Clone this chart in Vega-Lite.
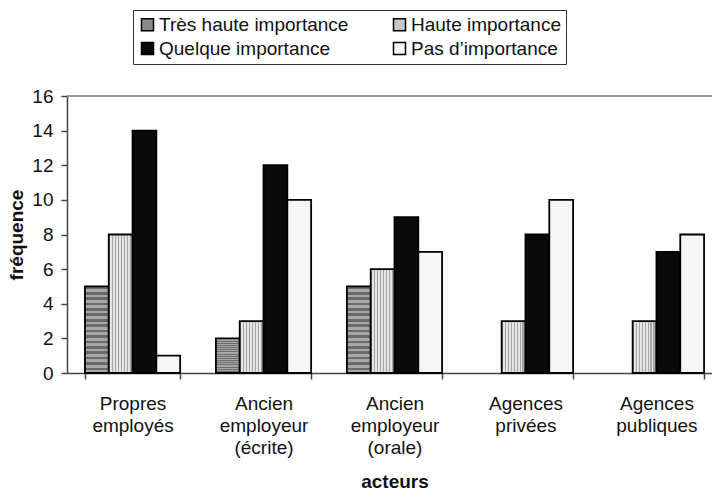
{
  "$schema": "https://vega.github.io/schema/vega-lite/v6.json",
  "autosize": {"type": "none"},
  "padding": {"left": 67, "top": 96, "right": 0, "bottom": 118},
  "width": 645,
  "height": 277,
  "background": "white",
  "config": {
    "font": "Liberation Sans",
    "view": {"stroke": null},
    "axis": {"labelFont": "Liberation Sans", "titleFont": "Liberation Sans", "labelColor": "#111", "titleColor": "#111"},
    "axisY": {
      "titleFontSize": 19,
      "titleFontWeight": "bold",
      "titleX": -51,
      "titleY": 138.5,
      "titleAlign": "center",
      "titleBaseline": "middle",
      "titleAngle": -90,
      "labelOverlap": false,
      "grid": false,
      "labelFontSize": 19,
      "labelPadding": 8,
      "tickSize": 6,
      "tickColor": "#444",
      "domainColor": "#444",
      "domainWidth": 1.5,
      "tickWidth": 1.5
    }
  },
  "data": {
    "values": [
      {"acteur": "Propres employés", "importance": "Très haute importance", "frequence": 5},
      {"acteur": "Propres employés", "importance": "Haute importance", "frequence": 8},
      {"acteur": "Propres employés", "importance": "Quelque  importance", "frequence": 14},
      {"acteur": "Propres employés", "importance": "Pas d’importance", "frequence": 1},
      {"acteur": "Ancien employeur (écrite)", "importance": "Très haute importance", "frequence": 2},
      {"acteur": "Ancien employeur (écrite)", "importance": "Haute importance", "frequence": 3},
      {"acteur": "Ancien employeur (écrite)", "importance": "Quelque  importance", "frequence": 12},
      {"acteur": "Ancien employeur (écrite)", "importance": "Pas d’importance", "frequence": 10},
      {"acteur": "Ancien employeur (orale)", "importance": "Très haute importance", "frequence": 5},
      {"acteur": "Ancien employeur (orale)", "importance": "Haute importance", "frequence": 6},
      {"acteur": "Ancien employeur (orale)", "importance": "Quelque  importance", "frequence": 9},
      {"acteur": "Ancien employeur (orale)", "importance": "Pas d’importance", "frequence": 7},
      {"acteur": "Agences privées", "importance": "Très haute importance", "frequence": 0},
      {"acteur": "Agences privées", "importance": "Haute importance", "frequence": 3},
      {"acteur": "Agences privées", "importance": "Quelque  importance", "frequence": 8},
      {"acteur": "Agences privées", "importance": "Pas d’importance", "frequence": 10},
      {"acteur": "Agences publiques", "importance": "Très haute importance", "frequence": 0},
      {"acteur": "Agences publiques", "importance": "Haute importance", "frequence": 3},
      {"acteur": "Agences publiques", "importance": "Quelque  importance", "frequence": 7},
      {"acteur": "Agences publiques", "importance": "Pas d’importance", "frequence": 8}
    ]
  },
  "layer": [
    {
      "mark": {"type": "bar", "stroke": "#000000", "strokeWidth": 1.8},
      "transform": [{"filter": "datum.frequence > 0"}],
      "encoding": {
        "x": {
          "field": "acteur",
          "type": "nominal",
          "sort": ["Propres employés", "Ancien employeur (écrite)", "Ancien employeur (orale)", "Agences privées", "Agences publiques"],
          "scale": {"range": [0, 655], "paddingInner": 0.273, "paddingOuter": 0.137},
          "axis": {
            "title": "acteurs",
            "titleFontSize": 19,
            "titleFontWeight": "bold",
            "titlePadding": 15,
            "labelAngle": 0,
            "labelFontSize": 19,
            "labelLineHeight": 22,
            "labelBaseline": "top",
            "labelPadding": 15,
            "tickBand": "extent",
            "tickSize": 6,
            "tickColor": "#444",
            "domainColor": "#444",
            "domainWidth": 1.5,
            "tickWidth": 1.5,
            "labelExpr": "datum.value == 'Propres employés' ? ['Propres', 'employés'] : datum.value == 'Ancien employeur (écrite)' ? ['Ancien', 'employeur', '(écrite)'] : datum.value == 'Ancien employeur (orale)' ? ['Ancien', 'employeur', '(orale)'] : datum.value == 'Agences privées' ? ['Agences', 'privées'] : datum.value == 'Agences publiques' ? ['Agences', 'publiques'] : ''"
          }
        },
        "xOffset": {
          "field": "importance",
          "type": "nominal",
          "sort": ["Très haute importance", "Haute importance", "Quelque  importance", "Pas d’importance"],
          "scale": {"domain": ["Très haute importance", "Haute importance", "Quelque  importance", "Pas d’importance"], "paddingInner": 0, "paddingOuter": 0}
        },
        "y": {
          "field": "frequence",
          "type": "quantitative",
          "scale": {"domain": [0, 16], "nice": false, "zero": true},
          "axis": {"title": "fréquence", "values": [0, 2, 4, 6, 8, 10, 12, 14, 16]}
        },
        "fill": {
          "field": "importance",
          "type": "nominal",
          "condition": [
            {"test": "datum.importance == 'Très haute importance'", "value": {"gradient": "linear", "x1": 0, "y1": 0, "x2": 0, "y2": 1, "stops": [
                {"offset": 0, "color": "#6a6a6a"}, {"offset": 0.03125, "color": "#6a6a6a"}, {"offset": 0.03125, "color": "#a8a8a8"}, {"offset": 0.0625, "color": "#a8a8a8"},
                {"offset": 0.0625, "color": "#6a6a6a"}, {"offset": 0.09375, "color": "#6a6a6a"}, {"offset": 0.09375, "color": "#a8a8a8"}, {"offset": 0.125, "color": "#a8a8a8"},
                {"offset": 0.125, "color": "#6a6a6a"}, {"offset": 0.15625, "color": "#6a6a6a"}, {"offset": 0.15625, "color": "#a8a8a8"}, {"offset": 0.1875, "color": "#a8a8a8"},
                {"offset": 0.1875, "color": "#6a6a6a"}, {"offset": 0.21875, "color": "#6a6a6a"}, {"offset": 0.21875, "color": "#a8a8a8"}, {"offset": 0.25, "color": "#a8a8a8"},
                {"offset": 0.25, "color": "#6a6a6a"}, {"offset": 0.28125, "color": "#6a6a6a"}, {"offset": 0.28125, "color": "#a8a8a8"}, {"offset": 0.3125, "color": "#a8a8a8"},
                {"offset": 0.3125, "color": "#6a6a6a"}, {"offset": 0.34375, "color": "#6a6a6a"}, {"offset": 0.34375, "color": "#a8a8a8"}, {"offset": 0.375, "color": "#a8a8a8"},
                {"offset": 0.375, "color": "#6a6a6a"}, {"offset": 0.40625, "color": "#6a6a6a"}, {"offset": 0.40625, "color": "#a8a8a8"}, {"offset": 0.4375, "color": "#a8a8a8"},
                {"offset": 0.4375, "color": "#6a6a6a"}, {"offset": 0.46875, "color": "#6a6a6a"}, {"offset": 0.46875, "color": "#a8a8a8"}, {"offset": 0.5, "color": "#a8a8a8"},
                {"offset": 0.5, "color": "#6a6a6a"}, {"offset": 0.53125, "color": "#6a6a6a"}, {"offset": 0.53125, "color": "#a8a8a8"}, {"offset": 0.5625, "color": "#a8a8a8"},
                {"offset": 0.5625, "color": "#6a6a6a"}, {"offset": 0.59375, "color": "#6a6a6a"}, {"offset": 0.59375, "color": "#a8a8a8"}, {"offset": 0.625, "color": "#a8a8a8"},
                {"offset": 0.625, "color": "#6a6a6a"}, {"offset": 0.65625, "color": "#6a6a6a"}, {"offset": 0.65625, "color": "#a8a8a8"}, {"offset": 0.6875, "color": "#a8a8a8"},
                {"offset": 0.6875, "color": "#6a6a6a"}, {"offset": 0.71875, "color": "#6a6a6a"}, {"offset": 0.71875, "color": "#a8a8a8"}, {"offset": 0.75, "color": "#a8a8a8"},
                {"offset": 0.75, "color": "#6a6a6a"}, {"offset": 0.78125, "color": "#6a6a6a"}, {"offset": 0.78125, "color": "#a8a8a8"}, {"offset": 0.8125, "color": "#a8a8a8"},
                {"offset": 0.8125, "color": "#6a6a6a"}, {"offset": 0.84375, "color": "#6a6a6a"}, {"offset": 0.84375, "color": "#a8a8a8"}, {"offset": 0.875, "color": "#a8a8a8"},
                {"offset": 0.875, "color": "#6a6a6a"}, {"offset": 0.90625, "color": "#6a6a6a"}, {"offset": 0.90625, "color": "#a8a8a8"}, {"offset": 0.9375, "color": "#a8a8a8"},
                {"offset": 0.9375, "color": "#6a6a6a"}, {"offset": 0.96875, "color": "#6a6a6a"}, {"offset": 0.96875, "color": "#a8a8a8"}, {"offset": 1, "color": "#a8a8a8"}
              ]}},
            {"test": "datum.importance == 'Haute importance'", "value": {"gradient": "linear", "x1": 0, "y1": 0, "x2": 1, "y2": 0, "stops": [
                {"offset": 0, "color": "#a6a6a6"}, {"offset": 0.0625, "color": "#a6a6a6"}, {"offset": 0.0625, "color": "#e4e4e4"}, {"offset": 0.125, "color": "#e4e4e4"},
                {"offset": 0.125, "color": "#a6a6a6"}, {"offset": 0.1875, "color": "#a6a6a6"}, {"offset": 0.1875, "color": "#e4e4e4"}, {"offset": 0.25, "color": "#e4e4e4"},
                {"offset": 0.25, "color": "#a6a6a6"}, {"offset": 0.3125, "color": "#a6a6a6"}, {"offset": 0.3125, "color": "#e4e4e4"}, {"offset": 0.375, "color": "#e4e4e4"},
                {"offset": 0.375, "color": "#a6a6a6"}, {"offset": 0.4375, "color": "#a6a6a6"}, {"offset": 0.4375, "color": "#e4e4e4"}, {"offset": 0.5, "color": "#e4e4e4"},
                {"offset": 0.5, "color": "#a6a6a6"}, {"offset": 0.5625, "color": "#a6a6a6"}, {"offset": 0.5625, "color": "#e4e4e4"}, {"offset": 0.625, "color": "#e4e4e4"},
                {"offset": 0.625, "color": "#a6a6a6"}, {"offset": 0.6875, "color": "#a6a6a6"}, {"offset": 0.6875, "color": "#e4e4e4"}, {"offset": 0.75, "color": "#e4e4e4"},
                {"offset": 0.75, "color": "#a6a6a6"}, {"offset": 0.8125, "color": "#a6a6a6"}, {"offset": 0.8125, "color": "#e4e4e4"}, {"offset": 0.875, "color": "#e4e4e4"},
                {"offset": 0.875, "color": "#a6a6a6"}, {"offset": 0.9375, "color": "#a6a6a6"}, {"offset": 0.9375, "color": "#e4e4e4"}, {"offset": 1, "color": "#e4e4e4"}
              ]}}
          ],
          "scale": {
            "domain": ["Très haute importance", "Haute importance", "Quelque  importance", "Pas d’importance"],
            "range": ["#8a8a8a", "#c6c6c6", "#0a0a0a", "#f6f6f6"]
          },
          "legend": {
            "title": null,
            "orient": "none",
            "legendX": 66,
            "legendY": -86,
            "direction": "horizontal",
            "columns": 2,
            "columnPadding": 41,
            "rowPadding": 4,
            "padding": 5,
            "strokeColor": "#333",
            "symbolType": "square",
            "symbolSize": 144,
            "symbolStrokeColor": "#000",
            "symbolStrokeWidth": 1.5,
            "symbolOpacity": 1,
            "labelFontSize": 19,
            "labelFont": "Liberation Sans",
            "labelColor": "#111",
            "labelOffset": 2,
            "labelLimit": 400
          }
        }
      }
    },
    {
      "mark": {"type": "rule", "color": "#999999", "strokeWidth": 2},
      "encoding": {"y": {"datum": 16, "type": "quantitative", "axis": {"title": "fréquence", "values": [0, 2, 4, 6, 8, 10, 12, 14, 16]}}}
    }
  ]
}
